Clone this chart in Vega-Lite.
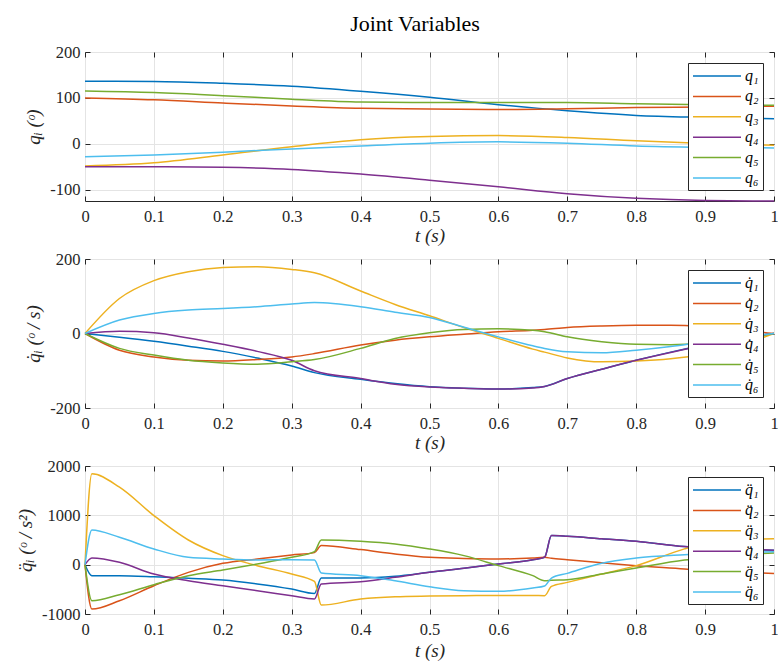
{
  "$schema": "https://vega.github.io/schema/vega-lite/v6.json",
  "background": "white",
  "autosize": {"type": "none"},
  "padding": {"left": 85, "top": 52, "right": 693, "bottom": 609},
  "title": {"text": "Joint Variables", "font": "Liberation Serif", "fontSize": 22, "fontWeight": "normal", "color": "#000000", "anchor": "middle", "dx": 18, "offset": 8},
  "spacing": 58,
  "bounds": "flush",
  "resolve": {"scale": {"color": "independent"}, "legend": {"color": "independent"}},
  "config": {
    "font": "Liberation Serif",
    "style": {"guide-label": {"font": "Liberation Serif"}, "guide-title": {"font": "Liberation Serif"}},
    "view": {"stroke": "#262626", "strokeWidth": 1},
    "axis": {
      "labelFont": "Liberation Serif", "labelFontSize": 16.5, "labelColor": "#262626", "labelFlush": false,
      "titleFont": "Liberation Serif", "titleFontSize": 19, "titleFontWeight": "normal", "titleFontStyle": "italic", "titleColor": "#262626",
      "domain": false, "tickColor": "#262626", "tickSize": -5, "tickWidth": 1,
      "grid": true, "gridColor": "#e4e4e4", "gridWidth": 1,
      "labelPadding": 10, "labelExpr": "toString(datum.value)"
    },
    "axisX": {"labelPadding": 12, "titleFontSize": 19},
    "legend": {
      "orient": "top-right", "offset": 11,
      "labelFont": "Liberation Serif", "labelFontSize": 16, "labelFontStyle": "italic", "labelColor": "#000000",
      "symbolType": "M-1,0H5", "symbolSize": 256, "symbolStrokeWidth": 1.5,
      "padding": 4, "rowPadding": 3.4, "labelOffset": 35,
      "strokeColor": "#262626", "fillColor": "white"
    },
    "line": {"strokeWidth": 1.5, "interpolate": "monotone", "clip": true}
  },
  "datasets": {
    "pos": [
      {"t":0,"s":"q₁","v":136.5},{"t":0.1,"s":"q₁","v":136},{"t":0.2,"s":"q₁","v":132},{"t":0.3,"s":"q₁","v":125.5},{"t":0.4,"s":"q₁","v":114.6},{"t":0.5,"s":"q₁","v":101.5},{"t":0.6,"s":"q₁","v":85.4},{"t":0.7,"s":"q₁","v":72},{"t":0.8,"s":"q₁","v":62},{"t":0.9,"s":"q₁","v":57.7},{"t":1,"s":"q₁","v":54.7},
      {"t":0,"s":"q₂","v":100},{"t":0.1,"s":"q₂","v":96},{"t":0.2,"s":"q₂","v":89},{"t":0.3,"s":"q₂","v":82.5},{"t":0.4,"s":"q₂","v":77.4},{"t":0.5,"s":"q₂","v":76},{"t":0.6,"s":"q₂","v":75},{"t":0.7,"s":"q₂","v":76.6},{"t":0.8,"s":"q₂","v":79},{"t":0.9,"s":"q₂","v":80.5},{"t":1,"s":"q₂","v":82},
      {"t":0,"s":"q₃","v":-48},{"t":0.1,"s":"q₃","v":-41},{"t":0.2,"s":"q₃","v":-24},{"t":0.3,"s":"q₃","v":-6},{"t":0.4,"s":"q₃","v":9},{"t":0.5,"s":"q₃","v":16},{"t":0.6,"s":"q₃","v":18},{"t":0.7,"s":"q₃","v":14},{"t":0.8,"s":"q₃","v":6.6},{"t":0.9,"s":"q₃","v":0.7},{"t":1,"s":"q₃","v":-3},
      {"t":0,"s":"q₄","v":-49.6},{"t":0.1,"s":"q₄","v":-49.6},{"t":0.2,"s":"q₄","v":-51},{"t":0.3,"s":"q₄","v":-55.5},{"t":0.4,"s":"q₄","v":-65.7},{"t":0.5,"s":"q₄","v":-79},{"t":0.6,"s":"q₄","v":-93.4},{"t":0.7,"s":"q₄","v":-108.5},{"t":0.8,"s":"q₄","v":-118.5},{"t":0.9,"s":"q₄","v":-123.2},{"t":1,"s":"q₄","v":-124.3},
      {"t":0,"s":"q₅","v":115},{"t":0.1,"s":"q₅","v":111.7},{"t":0.2,"s":"q₅","v":105},{"t":0.3,"s":"q₅","v":97},{"t":0.4,"s":"q₅","v":91},{"t":0.5,"s":"q₅","v":90},{"t":0.6,"s":"q₅","v":90},{"t":0.7,"s":"q₅","v":90},{"t":0.8,"s":"q₅","v":87.6},{"t":0.9,"s":"q₅","v":85.4},{"t":1,"s":"q₅","v":84},
      {"t":0,"s":"q₆","v":-28},{"t":0.1,"s":"q₆","v":-24},{"t":0.2,"s":"q₆","v":-18},{"t":0.3,"s":"q₆","v":-11},{"t":0.4,"s":"q₆","v":-4.4},{"t":0.5,"s":"q₆","v":1.5},{"t":0.6,"s":"q₆","v":4.4},{"t":0.7,"s":"q₆","v":1.5},{"t":0.8,"s":"q₆","v":-4.4},{"t":0.9,"s":"q₆","v":-7.3},{"t":1,"s":"q₆","v":-8.8}
    ],
    "vel": [
      {"t":0,"s":"q̇₁","v":0},{"t":0.05,"s":"q̇₁","v":-10},{"t":0.1,"s":"q̇₁","v":-21},{"t":0.15,"s":"q̇₁","v":-34},{"t":0.2,"s":"q̇₁","v":-48},{"t":0.25,"s":"q̇₁","v":-66},{"t":0.3,"s":"q̇₁","v":-87},{"t":0.333,"s":"q̇₁","v":-105},{"t":0.4,"s":"q̇₁","v":-123},{"t":0.45,"s":"q̇₁","v":-134.5},{"t":0.5,"s":"q̇₁","v":-143},{"t":0.55,"s":"q̇₁","v":-147},{"t":0.6,"s":"q̇₁","v":-149},{"t":0.65,"s":"q̇₁","v":-145},{"t":0.667,"s":"q̇₁","v":-142},{"t":0.7,"s":"q̇₁","v":-121},{"t":0.75,"s":"q̇₁","v":-96},{"t":0.8,"s":"q̇₁","v":-72},{"t":0.85,"s":"q̇₁","v":-50},{"t":0.9,"s":"q̇₁","v":-30},{"t":0.95,"s":"q̇₁","v":-12},{"t":1,"s":"q̇₁","v":0},
      {"t":0,"s":"q̇₂","v":0},{"t":0.05,"s":"q̇₂","v":-45},{"t":0.1,"s":"q̇₂","v":-63},{"t":0.15,"s":"q̇₂","v":-72},{"t":0.2,"s":"q̇₂","v":-74},{"t":0.25,"s":"q̇₂","v":-70},{"t":0.3,"s":"q̇₂","v":-63},{"t":0.333,"s":"q̇₂","v":-54},{"t":0.4,"s":"q̇₂","v":-31},{"t":0.45,"s":"q̇₂","v":-18},{"t":0.5,"s":"q̇₂","v":-9},{"t":0.55,"s":"q̇₂","v":-2},{"t":0.6,"s":"q̇₂","v":4.5},{"t":0.65,"s":"q̇₂","v":9},{"t":0.667,"s":"q̇₂","v":11},{"t":0.7,"s":"q̇₂","v":16},{"t":0.75,"s":"q̇₂","v":20},{"t":0.8,"s":"q̇₂","v":22},{"t":0.85,"s":"q̇₂","v":22},{"t":0.9,"s":"q̇₂","v":18},{"t":0.95,"s":"q̇₂","v":10},{"t":1,"s":"q̇₂","v":0},
      {"t":0,"s":"q̇₃","v":0},{"t":0.05,"s":"q̇₃","v":94},{"t":0.1,"s":"q̇₃","v":142},{"t":0.15,"s":"q̇₃","v":166},{"t":0.2,"s":"q̇₃","v":177},{"t":0.25,"s":"q̇₃","v":179},{"t":0.3,"s":"q̇₃","v":172},{"t":0.333,"s":"q̇₃","v":163},{"t":0.4,"s":"q̇₃","v":114},{"t":0.45,"s":"q̇₃","v":78},{"t":0.5,"s":"q̇₃","v":47.5},{"t":0.55,"s":"q̇₃","v":16},{"t":0.6,"s":"q̇₃","v":-13},{"t":0.65,"s":"q̇₃","v":-42},{"t":0.667,"s":"q̇₃","v":-50},{"t":0.7,"s":"q̇₃","v":-65.5},{"t":0.75,"s":"q̇₃","v":-76},{"t":0.8,"s":"q̇₃","v":-74},{"t":0.85,"s":"q̇₃","v":-68},{"t":0.9,"s":"q̇₃","v":-56},{"t":0.95,"s":"q̇₃","v":-32},{"t":1,"s":"q̇₃","v":0},
      {"t":0,"s":"q̇₄","v":0},{"t":0.05,"s":"q̇₄","v":6},{"t":0.1,"s":"q̇₄","v":2},{"t":0.15,"s":"q̇₄","v":-12},{"t":0.2,"s":"q̇₄","v":-29},{"t":0.25,"s":"q̇₄","v":-48},{"t":0.3,"s":"q̇₄","v":-72},{"t":0.333,"s":"q̇₄","v":-100},{"t":0.4,"s":"q̇₄","v":-121},{"t":0.45,"s":"q̇₄","v":-136},{"t":0.5,"s":"q̇₄","v":-143.5},{"t":0.55,"s":"q̇₄","v":-147},{"t":0.6,"s":"q̇₄","v":-149},{"t":0.65,"s":"q̇₄","v":-146},{"t":0.667,"s":"q̇₄","v":-142},{"t":0.7,"s":"q̇₄","v":-121},{"t":0.75,"s":"q̇₄","v":-96},{"t":0.8,"s":"q̇₄","v":-72},{"t":0.85,"s":"q̇₄","v":-51},{"t":0.9,"s":"q̇₄","v":-31},{"t":0.95,"s":"q̇₄","v":-13},{"t":1,"s":"q̇₄","v":0},
      {"t":0,"s":"q̇₅","v":0},{"t":0.05,"s":"q̇₅","v":-40},{"t":0.1,"s":"q̇₅","v":-58},{"t":0.15,"s":"q̇₅","v":-72},{"t":0.2,"s":"q̇₅","v":-79},{"t":0.25,"s":"q̇₅","v":-82.5},{"t":0.3,"s":"q̇₅","v":-76},{"t":0.333,"s":"q̇₅","v":-70},{"t":0.4,"s":"q̇₅","v":-40},{"t":0.45,"s":"q̇₅","v":-13.5},{"t":0.5,"s":"q̇₅","v":2},{"t":0.55,"s":"q̇₅","v":11},{"t":0.6,"s":"q̇₅","v":12.5},{"t":0.65,"s":"q̇₅","v":9},{"t":0.667,"s":"q̇₅","v":5},{"t":0.7,"s":"q̇₅","v":-9},{"t":0.75,"s":"q̇₅","v":-22},{"t":0.8,"s":"q̇₅","v":-29},{"t":0.85,"s":"q̇₅","v":-30},{"t":0.9,"s":"q̇₅","v":-25},{"t":0.95,"s":"q̇₅","v":-14},{"t":1,"s":"q̇₅","v":0},
      {"t":0,"s":"q̇₆","v":0},{"t":0.05,"s":"q̇₆","v":36},{"t":0.1,"s":"q̇₆","v":54},{"t":0.15,"s":"q̇₆","v":63},{"t":0.2,"s":"q̇₆","v":67},{"t":0.25,"s":"q̇₆","v":72},{"t":0.3,"s":"q̇₆","v":79},{"t":0.333,"s":"q̇₆","v":83},{"t":0.4,"s":"q̇₆","v":72},{"t":0.45,"s":"q̇₆","v":57},{"t":0.5,"s":"q̇₆","v":43},{"t":0.55,"s":"q̇₆","v":17},{"t":0.6,"s":"q̇₆","v":-9},{"t":0.65,"s":"q̇₆","v":-33},{"t":0.667,"s":"q̇₆","v":-40},{"t":0.7,"s":"q̇₆","v":-49},{"t":0.75,"s":"q̇₆","v":-52},{"t":0.8,"s":"q̇₆","v":-45},{"t":0.85,"s":"q̇₆","v":-35},{"t":0.9,"s":"q̇₆","v":-22},{"t":0.95,"s":"q̇₆","v":-10},{"t":1,"s":"q̇₆","v":0}
    ],
    "acc": [
      {"t":0,"s":"q̈₁","v":0},{"t":0.01,"s":"q̈₁","v":-223},{"t":0.05,"s":"q̈₁","v":-223},{"t":0.1,"s":"q̈₁","v":-244},{"t":0.15,"s":"q̈₁","v":-275},{"t":0.2,"s":"q̈₁","v":-311},{"t":0.25,"s":"q̈₁","v":-390},{"t":0.3,"s":"q̈₁","v":-494},{"t":0.333,"s":"q̈₁","v":-582},{"t":0.343,"s":"q̈₁","v":-271},{"t":0.4,"s":"q̈₁","v":-271},{"t":0.45,"s":"q̈₁","v":-237},{"t":0.5,"s":"q̈₁","v":-156},{"t":0.55,"s":"q̈₁","v":-75},{"t":0.6,"s":"q̈₁","v":14},{"t":0.65,"s":"q̈₁","v":100},{"t":0.667,"s":"q̈₁","v":149},{"t":0.677,"s":"q̈₁","v":589},{"t":0.7,"s":"q̈₁","v":575},{"t":0.75,"s":"q̈₁","v":525},{"t":0.8,"s":"q̈₁","v":474},{"t":0.87,"s":"q̈₁","v":366},{"t":0.9,"s":"q̈₁","v":340},{"t":0.95,"s":"q̈₁","v":310},{"t":1,"s":"q̈₁","v":290},
      {"t":0,"s":"q̈₂","v":0},{"t":0.01,"s":"q̈₂","v":-900},{"t":0.05,"s":"q̈₂","v":-731},{"t":0.1,"s":"q̈₂","v":-427},{"t":0.15,"s":"q̈₂","v":-156},{"t":0.2,"s":"q̈₂","v":27},{"t":0.25,"s":"q̈₂","v":115},{"t":0.3,"s":"q̈₂","v":196},{"t":0.333,"s":"q̈₂","v":244},{"t":0.343,"s":"q̈₂","v":386},{"t":0.4,"s":"q̈₂","v":305},{"t":0.45,"s":"q̈₂","v":217},{"t":0.5,"s":"q̈₂","v":149},{"t":0.55,"s":"q̈₂","v":125},{"t":0.6,"s":"q̈₂","v":115},{"t":0.65,"s":"q̈₂","v":135},{"t":0.667,"s":"q̈₂","v":149},{"t":0.677,"s":"q̈₂","v":129},{"t":0.7,"s":"q̈₂","v":101},{"t":0.75,"s":"q̈₂","v":40},{"t":0.8,"s":"q̈₂","v":-20},{"t":0.87,"s":"q̈₂","v":-88},{"t":0.9,"s":"q̈₂","v":-120},{"t":0.95,"s":"q̈₂","v":-150},{"t":1,"s":"q̈₂","v":-180},
      {"t":0,"s":"q̈₃","v":0},{"t":0.01,"s":"q̈₃","v":1841},{"t":0.05,"s":"q̈₃","v":1570},{"t":0.1,"s":"q̈₃","v":995},{"t":0.15,"s":"q̈₃","v":500},{"t":0.2,"s":"q̈₃","v":183},{"t":0.25,"s":"q̈₃","v":-20},{"t":0.3,"s":"q̈₃","v":-190},{"t":0.333,"s":"q̈₃","v":-340},{"t":0.343,"s":"q̈₃","v":-820},{"t":0.4,"s":"q̈₃","v":-697},{"t":0.45,"s":"q̈₃","v":-650},{"t":0.5,"s":"q̈₃","v":-636},{"t":0.55,"s":"q̈₃","v":-628},{"t":0.6,"s":"q̈₃","v":-623},{"t":0.65,"s":"q̈₃","v":-625},{"t":0.667,"s":"q̈₃","v":-630},{"t":0.677,"s":"q̈₃","v":-440},{"t":0.7,"s":"q̈₃","v":-359},{"t":0.75,"s":"q̈₃","v":-190},{"t":0.8,"s":"q̈₃","v":-20},{"t":0.87,"s":"q̈₃","v":320},{"t":0.9,"s":"q̈₃","v":430},{"t":0.95,"s":"q̈₃","v":505},{"t":1,"s":"q̈₃","v":527},
      {"t":0,"s":"q̈₄","v":0},{"t":0.01,"s":"q̈₄","v":135},{"t":0.05,"s":"q̈₄","v":47},{"t":0.1,"s":"q̈₄","v":-190},{"t":0.15,"s":"q̈₄","v":-325},{"t":0.2,"s":"q̈₄","v":-427},{"t":0.25,"s":"q̈₄","v":-528},{"t":0.3,"s":"q̈₄","v":-630},{"t":0.333,"s":"q̈₄","v":-697},{"t":0.343,"s":"q̈₄","v":-393},{"t":0.4,"s":"q̈₄","v":-345},{"t":0.45,"s":"q̈₄","v":-257},{"t":0.5,"s":"q̈₄","v":-156},{"t":0.55,"s":"q̈₄","v":-75},{"t":0.6,"s":"q̈₄","v":14},{"t":0.65,"s":"q̈₄","v":100},{"t":0.667,"s":"q̈₄","v":149},{"t":0.677,"s":"q̈₄","v":589},{"t":0.7,"s":"q̈₄","v":575},{"t":0.75,"s":"q̈₄","v":525},{"t":0.8,"s":"q̈₄","v":474},{"t":0.87,"s":"q̈₄","v":366},{"t":0.9,"s":"q̈₄","v":345},{"t":0.95,"s":"q̈₄","v":315},{"t":1,"s":"q̈₄","v":292},
      {"t":0,"s":"q̈₅","v":0},{"t":0.01,"s":"q̈₅","v":-731},{"t":0.05,"s":"q̈₅","v":-609},{"t":0.1,"s":"q̈₅","v":-406},{"t":0.15,"s":"q̈₅","v":-223},{"t":0.2,"s":"q̈₅","v":-108},{"t":0.25,"s":"q̈₅","v":14},{"t":0.3,"s":"q̈₅","v":149},{"t":0.333,"s":"q̈₅","v":264},{"t":0.343,"s":"q̈₅","v":501},{"t":0.4,"s":"q̈₅","v":474},{"t":0.45,"s":"q̈₅","v":420},{"t":0.5,"s":"q̈₅","v":318},{"t":0.55,"s":"q̈₅","v":183},{"t":0.6,"s":"q̈₅","v":-20},{"t":0.65,"s":"q̈₅","v":-223},{"t":0.667,"s":"q̈₅","v":-325},{"t":0.677,"s":"q̈₅","v":-315},{"t":0.7,"s":"q̈₅","v":-305},{"t":0.75,"s":"q̈₅","v":-190},{"t":0.8,"s":"q̈₅","v":-68},{"t":0.87,"s":"q̈₅","v":95},{"t":0.9,"s":"q̈₅","v":140},{"t":0.95,"s":"q̈₅","v":200},{"t":1,"s":"q̈₅","v":237},
      {"t":0,"s":"q̈₆","v":0},{"t":0.01,"s":"q̈₆","v":704},{"t":0.05,"s":"q̈₆","v":555},{"t":0.1,"s":"q̈₆","v":318},{"t":0.15,"s":"q̈₆","v":149},{"t":0.2,"s":"q̈₆","v":115},{"t":0.25,"s":"q̈₆","v":95},{"t":0.3,"s":"q̈₆","v":101},{"t":0.333,"s":"q̈₆","v":95},{"t":0.343,"s":"q̈₆","v":-169},{"t":0.4,"s":"q̈₆","v":-223},{"t":0.45,"s":"q̈₆","v":-325},{"t":0.5,"s":"q̈₆","v":-447},{"t":0.55,"s":"q̈₆","v":-528},{"t":0.6,"s":"q̈₆","v":-541},{"t":0.65,"s":"q̈₆","v":-474},{"t":0.667,"s":"q̈₆","v":-433},{"t":0.677,"s":"q̈₆","v":-271},{"t":0.7,"s":"q̈₆","v":-176},{"t":0.75,"s":"q̈₆","v":30},{"t":0.8,"s":"q̈₆","v":135},{"t":0.87,"s":"q̈₆","v":203},{"t":0.9,"s":"q̈₆","v":225},{"t":0.95,"s":"q̈₆","v":245},{"t":1,"s":"q̈₆","v":260}
    ]
  },
  "vconcat": [
    {
      "width": 689, "height": 149,
      "data": {"name": "pos"},
      "resolve": {"axis": {"x": "independent", "y": "independent"}},
      "layer": [
        {
          "mark": {"type": "line"},
          "encoding": {
            "x": {"field": "t", "type": "quantitative", "scale": {"domain": [0, 1], "nice": false, "zero": false},
                  "axis": {"values": [0, 0.1, 0.2, 0.3, 0.4, 0.5, 0.6, 0.7, 0.8, 0.9, 1], "title": "t  (s)", "titleY": 25}},
            "y": {"field": "v", "type": "quantitative", "scale": {"domain": [-124.3, 200], "nice": false, "zero": false},
                  "axis": {"values": [-100, 0, 100, 200], "title": "qᵢ  (ᵒ)", "titleX": -42}},
            "color": {"field": "s", "type": "nominal",
                      "scale": {"domain": ["q₁", "q₂", "q₃", "q₄", "q₅", "q₆"], "range": ["#0072BD", "#D95319", "#EDB120", "#7E2F8E", "#77AC30", "#4DBEEE"]},
                      "legend": {"title": null}}
          }
        },
        {
          "mark": {"type": "point", "opacity": 0},
          "encoding": {
            "x": {"field": "t", "type": "quantitative", "axis": {"orient": "top", "values": [0, 0.1, 0.2, 0.3, 0.4, 0.5, 0.6, 0.7, 0.8, 0.9, 1], "labels": false, "title": null, "grid": false}},
            "y": {"field": "v", "type": "quantitative", "axis": {"orient": "right", "values": [-100, 0, 100, 200], "labels": false, "title": null, "grid": false}}
          }
        }
      ]
    },
    {
      "width": 689, "height": 149,
      "data": {"name": "vel"},
      "resolve": {"axis": {"x": "independent", "y": "independent"}},
      "layer": [
        {
          "mark": {"type": "line"},
          "encoding": {
            "x": {"field": "t", "type": "quantitative", "scale": {"domain": [0, 1], "nice": false, "zero": false},
                  "axis": {"values": [0, 0.1, 0.2, 0.3, 0.4, 0.5, 0.6, 0.7, 0.8, 0.9, 1], "title": "t  (s)", "titleY": 25}},
            "y": {"field": "v", "type": "quantitative", "scale": {"domain": [-200, 200], "nice": false, "zero": false},
                  "axis": {"values": [-200, 0, 200], "title": "q̇ᵢ  (ᵒ / s)", "titleX": -42}},
            "color": {"field": "s", "type": "nominal",
                      "scale": {"domain": ["q̇₁", "q̇₂", "q̇₃", "q̇₄", "q̇₅", "q̇₆"], "range": ["#0072BD", "#D95319", "#EDB120", "#7E2F8E", "#77AC30", "#4DBEEE"]},
                      "legend": {"title": null}}
          }
        },
        {
          "mark": {"type": "point", "opacity": 0},
          "encoding": {
            "x": {"field": "t", "type": "quantitative", "axis": {"orient": "top", "values": [0, 0.1, 0.2, 0.3, 0.4, 0.5, 0.6, 0.7, 0.8, 0.9, 1], "labels": false, "title": null, "grid": false}},
            "y": {"field": "v", "type": "quantitative", "axis": {"orient": "right", "values": [-200, 0, 200], "labels": false, "title": null, "grid": false}}
          }
        }
      ]
    },
    {
      "width": 689, "height": 148,
      "data": {"name": "acc"},
      "resolve": {"axis": {"x": "independent", "y": "independent"}},
      "layer": [
        {
          "mark": {"type": "line"},
          "encoding": {
            "x": {"field": "t", "type": "quantitative", "scale": {"domain": [0, 1], "nice": false, "zero": false},
                  "axis": {"values": [0, 0.1, 0.2, 0.3, 0.4, 0.5, 0.6, 0.7, 0.8, 0.9, 1], "title": "t  (s)", "titleY": 27}},
            "y": {"field": "v", "type": "quantitative", "scale": {"domain": [-1000, 2000], "nice": false, "zero": false},
                  "axis": {"values": [-1000, 0, 1000, 2000], "title": "q̈ᵢ   (ᵒ / s²)", "titleX": -50}},
            "color": {"field": "s", "type": "nominal",
                      "scale": {"domain": ["q̈₁", "q̈₂", "q̈₃", "q̈₄", "q̈₅", "q̈₆"], "range": ["#0072BD", "#D95319", "#EDB120", "#7E2F8E", "#77AC30", "#4DBEEE"]},
                      "legend": {"title": null}}
          }
        },
        {
          "mark": {"type": "point", "opacity": 0},
          "encoding": {
            "x": {"field": "t", "type": "quantitative", "axis": {"orient": "top", "values": [0, 0.1, 0.2, 0.3, 0.4, 0.5, 0.6, 0.7, 0.8, 0.9, 1], "labels": false, "title": null, "grid": false}},
            "y": {"field": "v", "type": "quantitative", "axis": {"orient": "right", "values": [-1000, 0, 1000, 2000], "labels": false, "title": null, "grid": false}}
          }
        }
      ]
    }
  ]
}
